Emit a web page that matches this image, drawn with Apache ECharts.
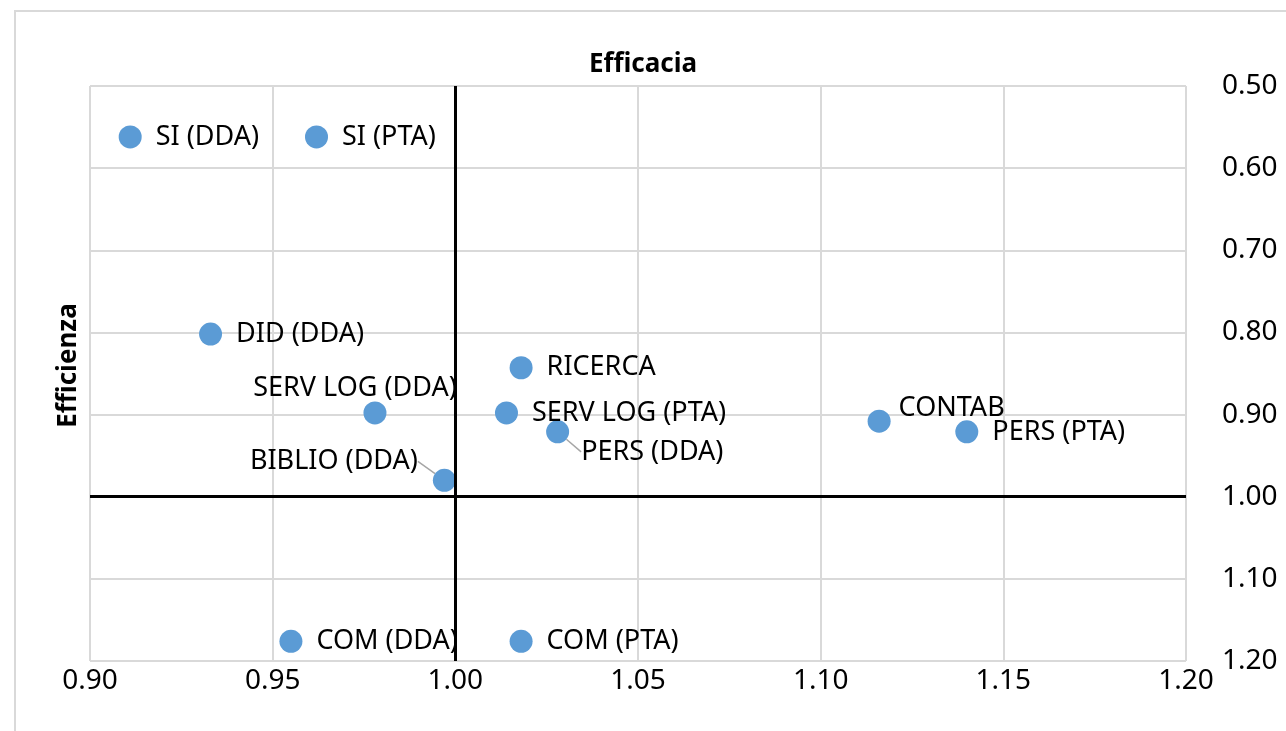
<!DOCTYPE html>
<html>
<head>
<meta charset="utf-8">
<script src="https://cdn.jsdelivr.net/npm/echarts@6/dist/echarts.min.js"></script>
<style>
  html, body { margin: 0; padding: 0; background: #fff; }
  #frame { position: absolute; left: 14px; top: 10px; width: 1400px; height: 900px; border: 2px solid #d9d9d9; }
  #main { position: absolute; left: 0; top: 0; width: 1286px; height: 731px; }
</style>
</head>
<body>
<div id="frame"></div>
<div id="main"></div>
<script>
var names = ['SI (DDA)', 'SI (PTA)', 'DID (DDA)', 'RICERCA', 'SERV LOG (DDA)', 'SERV LOG (PTA)',
             'PERS (DDA)', 'CONTAB', 'PERS (PTA)', 'BIBLIO (DDA)', 'COM (DDA)', 'COM (PTA)'];
var efficacia = [0.911, 0.962, 0.933, 1.018, 0.978, 1.014, 1.028, 1.116, 1.140, 0.997, 0.955, 1.018];
var efficienza = [0.562, 0.562, 0.802, 0.843, 0.898, 0.898, 0.921, 0.908, 0.921, 0.980, 1.176, 1.176];
var xTicks = [0.90, 0.95, 1.00, 1.05, 1.10, 1.15, 1.20];
var yTicks = [0.50, 0.60, 0.70, 0.80, 0.90, 1.00, 1.10, 1.20];

var FONT = 'Noto Sans';

// per-label placement tweaks
var labelPos = {
  'SERV LOG (DDA)': { position: 'top', distance: 0 },
  'BIBLIO (DDA)': { position: 'left', distance: 15 }
};
var shift = {
  'SERV LOG (DDA)': { dx: -20, dy: 0 },
  'CONTAB': { dx: -6, dy: -13 },
  'PERS (DDA)': { dx: -2, dy: 20, line: true },
  'BIBLIO (DDA)': { dx: 0, dy: -19, line: true }
};

var points = names.map(function (n, i) {
  var item = { name: n, value: [efficacia[i], efficienza[i]] };
  if (labelPos[n]) item.label = labelPos[n];
  if (shift[n] && shift[n].line) item.labelLine = { show: true };
  return item;
});

var chart = echarts.init(document.getElementById('main'));
var option = {
  animation: false,
  textStyle: { fontFamily: FONT },
  title: {
    text: 'Efficacia',
    left: 'center',
    top: 47,
    textStyle: { fontFamily: FONT, fontSize: 26, fontWeight: 'bold', color: '#000' }
  },
  graphic: [{
    type: 'text',
    left: 56,
    top: 'middle',
    rotation: Math.PI / 2,
    style: { text: 'Efficienza', font: 'bold 26px "Noto Sans"', fill: '#000' }
  }],
  grid: { left: 90, top: 86, right: 100, bottom: 70 },
  xAxis: {
    type: 'value',
    min: xTicks[0],
    max: xTicks[xTicks.length - 1],
    interval: 0.05,
    axisLine: { show: false },
    axisTick: { show: false },
    splitLine: { lineStyle: { color: '#d9d9d9', width: 2 } },
    axisLabel: {
      margin: 6, fontSize: 28, color: '#000', fontFamily: FONT,
      formatter: function (v) { return v.toFixed(2); }
    }
  },
  yAxis: {
    type: 'value',
    position: 'right',
    inverse: true,
    min: yTicks[0],
    max: yTicks[yTicks.length - 1],
    interval: 0.1,
    axisLine: { show: false },
    axisTick: { show: false },
    splitLine: { lineStyle: { color: '#d9d9d9', width: 2 } },
    axisLabel: {
      margin: 36, fontSize: 28, color: '#000', fontFamily: FONT,
      formatter: function (v) { return v.toFixed(2); }
    }
  },
  series: [{
    type: 'scatter',
    symbolSize: 23,
    itemStyle: { color: '#5b9bd5', opacity: 1 },
    label: {
      show: true,
      position: 'right',
      distance: 14,
      fontSize: 27,
      color: '#000',
      fontFamily: FONT,
      formatter: '{b}'
    },
    labelLine: { show: false, lineStyle: { color: '#a6a6a6', width: 1.5 } },
    labelLayout: function (p) {
      var m = shift[names[p.dataIndex]];
      return m ? { dx: m.dx, dy: m.dy } : {};
    },
    data: points,
    markLine: {
      silent: true,
      symbol: 'none',
      label: { show: false },
      lineStyle: { color: '#000', width: 3, type: 'solid' },
      data: [{ xAxis: 1 }, { yAxis: 1 }]
    }
  }]
};
chart.setOption(option);
</script>
</body>
</html>
